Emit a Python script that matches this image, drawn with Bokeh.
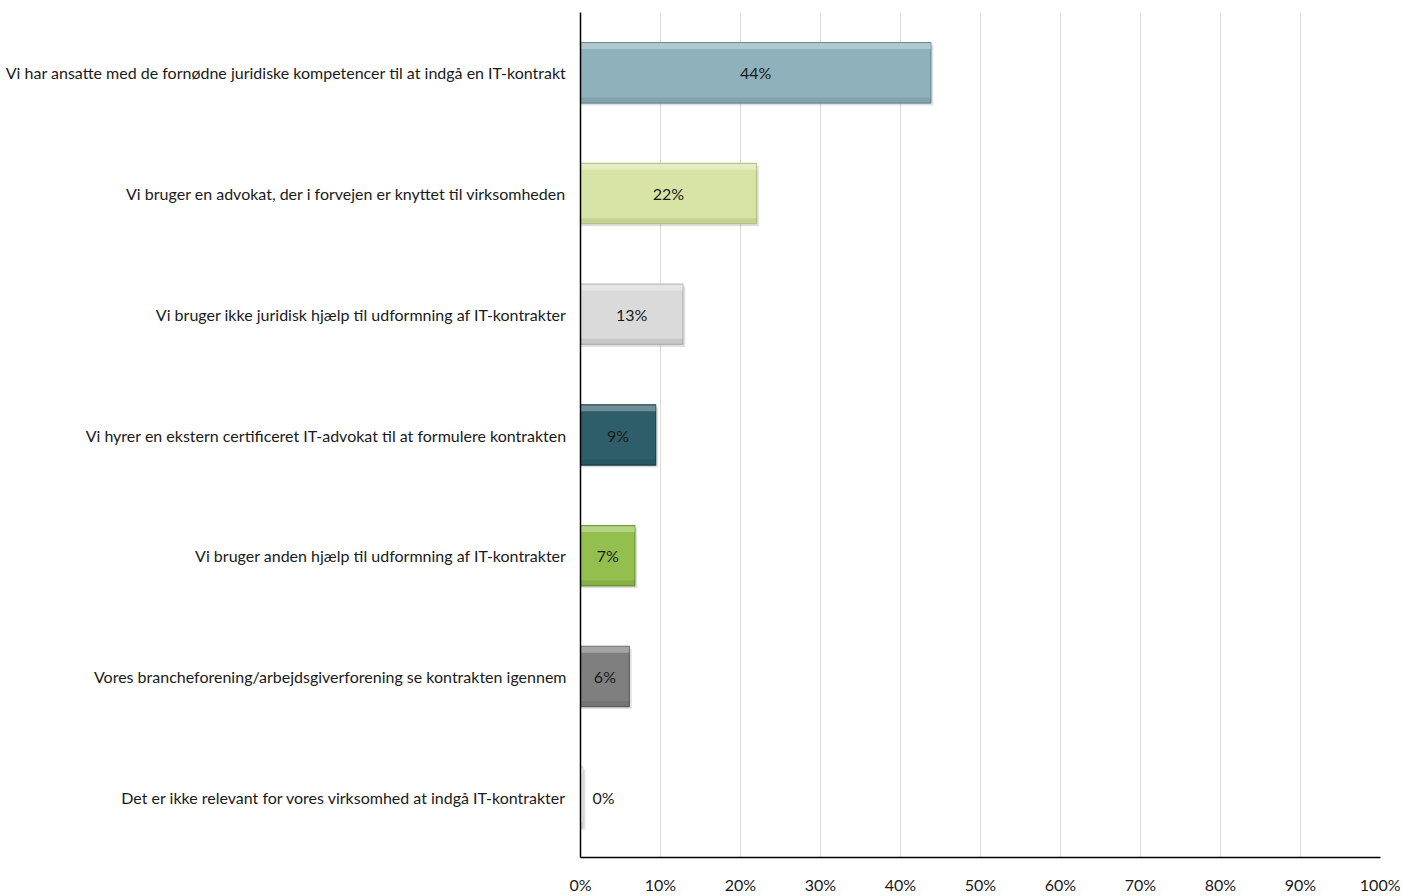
from bokeh.plotting import figure
from bokeh.models import ColumnDataSource, FixedTicker, Range1d, CustomJSTickFormatter
from bokeh.transform import dodge
from bokeh.core.properties import value
from bokeh.embed import file_html
from bokeh.resources import INLINE

categories = [
    "Vi har ansatte med de fornødne juridiske kompetencer til at indgå en IT-kontrakt",
    "Vi bruger en advokat, der i forvejen er knyttet til virksomheden",
    "Vi bruger ikke juridisk hjælp til udformning af IT-kontrakter",
    "Vi hyrer en ekstern certificeret IT-advokat til at formulere kontrakten",
    "Vi bruger anden hjælp til udformning af IT-kontrakter",
    "Vores brancheforening/arbejdsgiverforening se kontrakten igennem",
    "Det er ikke relevant for vores virksomhed at indgå IT-kontrakter",
]
values = [43.8, 22.0, 12.8, 9.4, 6.8, 6.1, 0.3]
labels = ["44%", "22%", "13%", "9%", "7%", "6%", "0%"]
colors = ["#8eb1bb", "#d8e4a6", "#dadada", "#2e5e69", "#92bf4e", "#7f7f7f", "#f4f4f4"]
edge_colors = ["#6d8f99", "#b3c282", "#b5b5b5", "#1d3f47", "#6f9a33", "#5e5e5e", "#d0d0d0"]
ticks = [0, 10, 20, 30, 40, 50, 60, 70, 80, 90, 100]

FONT = "Lato"

factors = list(reversed(categories))
label_x = [v / 2 if v >= 2 else v + 1.2 for v in values]
label_align = ["center" if v >= 2 else "left" for v in values]

src = ColumnDataSource(dict(cat=categories, val=values, col=colors, edge=edge_colors,
                            lab=labels, lx=label_x, la=label_align,
                            shadow_x=[v + 0.3 for v in values]))

p = figure(width=1400, height=896, y_range=factors, x_range=Range1d(0, 100),
           output_backend="svg", toolbar_location=None,
           min_border_left=580, min_border_right=20, min_border_top=12, min_border_bottom=36)
p.outline_line_color = None
p.background_fill_color = "white"

# soft shadow
p.hbar(y=dodge("cat", -0.02, range=p.y_range), left=0, right="shadow_x", height=0.5,
       source=src, fill_color="#000000", fill_alpha=0.12, line_color=None)
p.hbar(y="cat", left=0, right="val", height=0.5, source=src,
       fill_color="col", line_color="edge", line_width=1.2)
# bevel highlight (top) and shade (bottom)
p.hbar(y=dodge("cat", 0.222, range=p.y_range), left=0, right="val", height=0.05,
       source=src, fill_color="white", fill_alpha=0.3, line_color=None)
p.hbar(y=dodge("cat", -0.226, range=p.y_range), left=0, right="val", height=0.045,
       source=src, fill_color="black", fill_alpha=0.08, line_color=None)

p.text(x="lx", y="cat", text="lab", source=src, text_align="la", text_baseline="middle",
       text_font_size="16px", text_color="#1a1a1a", text_font=value(FONT))

p.xaxis.ticker = FixedTicker(ticks=ticks)
p.xaxis.formatter = CustomJSTickFormatter(code="return tick + '%';")
p.xaxis.major_tick_line_color = None
p.xaxis.major_tick_out = 0
p.xaxis.major_tick_in = 0
p.xaxis.minor_tick_line_color = None
p.xaxis.minor_tick_out = 0
p.xaxis.axis_line_color = "black"
p.xaxis.axis_line_width = 1.5
p.xaxis.major_label_text_font = FONT
p.xaxis.major_label_text_font_size = "16px"
p.xaxis.major_label_text_color = "#1a1a1a"
p.xaxis.major_label_standoff = 17

p.yaxis.major_tick_line_color = None
p.yaxis.major_tick_out = 0
p.yaxis.major_tick_in = 0
p.yaxis.minor_tick_line_color = None
p.yaxis.minor_tick_out = 0
p.yaxis.axis_line_color = "black"
p.yaxis.axis_line_width = 1.5
p.yaxis.major_label_text_font = FONT
p.yaxis.major_label_text_font_size = "16px"
p.yaxis.major_label_text_color = "#1a1a1a"
p.yaxis.major_label_standoff = 14

p.xgrid.grid_line_color = "#d9d9d9"
p.xgrid.grid_line_width = 1
p.ygrid.grid_line_color = None

open("out.html", "w").write(file_html(p, INLINE))
